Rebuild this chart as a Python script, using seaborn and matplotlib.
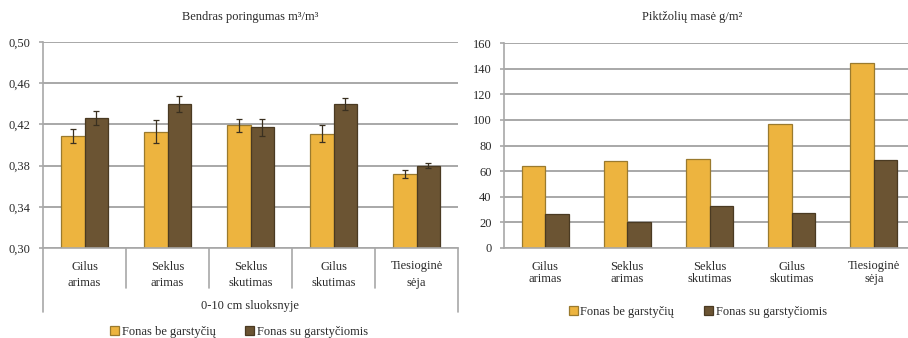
import numpy as np
import pandas as pd
import matplotlib
matplotlib.use("Agg")
import matplotlib.pyplot as plt
import seaborn as sns
from matplotlib.patches import Patch

# --- data ---------------------------------------------------------------
categories = ["Gilus\narimas", "Seklus\narimas", "Seklus\nskutimas", "Gilus\nskutimas", "Tiesioginė\nsėja"]
series_names = ["Fonas be garstyčių", "Fonas su garstyčiomis"]

porosity_without = [0.409, 0.413, 0.419, 0.411, 0.372]
porosity_with = [0.426, 0.440, 0.417, 0.440, 0.380]
porosity_err_without = [0.007, 0.011, 0.006, 0.008, 0.004]
porosity_err_with = [0.007, 0.008, 0.008, 0.006, 0.0025]

weeds_without = [64, 68, 69.5, 97, 144.5]
weeds_with = [26.5, 20, 33, 27, 69]

porosity_ticks = [0.30, 0.34, 0.38, 0.42, 0.46, 0.50]
weeds_ticks = [0, 20, 40, 60, 80, 100, 120, 140, 160]

# --- style --------------------------------------------------------------
sns.set_theme(style="white")
plt.rcParams["font.family"] = ["Liberation Serif", "DejaVu Serif"]
plt.rcParams["font.size"] = 9

yellow = "#EDB43F"
brown = "#6B5433"
palette = {series_names[0]: yellow, series_names[1]: brown}
edges = ["#9A7A2E", "#4A3A22"]
grid_c = "#A8A8A8"
text_c = "#2A2A2A"
FS = 9

def long_frame(a, b):
    return pd.DataFrame({
        "category": categories * 2,
        "series": [series_names[0]] * len(categories) + [series_names[1]] * len(categories),
        "value": list(a) + list(b),
    })

fig = plt.figure(figsize=(9.08, 3.38), dpi=100)
axL = fig.add_axes([43 / 908, 90 / 338, 415 / 908, 206 / 338])
axR = fig.add_axes([504 / 908, 90 / 338, 411 / 908, 205 / 338])

def style_axes(ax, ticks, fmt, linespacing):
    ax.set_yticks(ticks)
    ax.set_yticklabels([fmt(t) for t in ticks], color=text_c, fontsize=FS)
    ax.set_ylim(ticks[0], ticks[-1])
    ax.set_xlim(-0.5, len(categories) - 0.5)
    ax.grid(axis="y", color=grid_c, linewidth=1.4)
    ax.grid(axis="x", visible=False)
    ax.set_axisbelow(True)
    for s in ["top", "right"]:
        ax.spines[s].set_visible(False)
    for s in ["left", "bottom"]:
        ax.spines[s].set_color(grid_c)
        ax.spines[s].set_linewidth(1.2)
    ax.tick_params(axis="y", left=True, length=3, width=1.2, color=grid_c, pad=6)
    ax.tick_params(axis="x", bottom=False, pad=3, labelsize=FS, colors=text_c)
    for lbl in ax.get_xticklabels():
        lbl.set_linespacing(linespacing)
    ax.set_xlabel("")
    ax.set_ylabel("")

# --- left: total porosity ----------------------------------------------
sns.barplot(data=long_frame(porosity_without, porosity_with), x="category", y="value",
            hue="series", palette=palette, width=0.56, saturation=1, ax=axL,
            linewidth=0.9, legend=False)
for cont, ec, errs in zip(axL.containers, edges, [porosity_err_without, porosity_err_with]):
    for bar in cont:
        bar.set_edgecolor(ec)
    xs = [b.get_x() + b.get_width() / 2 for b in cont]
    hs = [b.get_height() for b in cont]
    axL.errorbar(xs, hs, yerr=errs, fmt="none", ecolor="#3A3020", elinewidth=0.9,
                 capsize=2, capthick=0.9)
style_axes(axL, porosity_ticks, lambda t: f"{t:.2f}".replace(".", ","), 1.45)

# group separators below the category axis
xt = axL.get_xaxis_transform()
for b in np.arange(-0.5, len(categories), 1.0):
    outer = b in (-0.5, len(categories) - 0.5)
    axL.plot([b, b], [0, -0.31 if outer else -0.195], transform=xt, clip_on=False,
             color=grid_c, linewidth=1.2)
fig.text(250 / 908, 1 - 17 / 338, "Bendras poringumas m³/m³", ha="center", va="center",
         fontsize=FS, color=text_c)
fig.text(250 / 908, 1 - 306 / 338, "0-10 cm sluoksnyje", ha="center", va="center",
         fontsize=FS, color=text_c)

# --- right: weed mass --------------------------------------------------
sns.barplot(data=long_frame(weeds_without, weeds_with), x="category", y="value",
            hue="series", palette=palette, width=0.57, saturation=1, ax=axR,
            linewidth=0.9, legend=False)
for cont, ec in zip(axR.containers, edges):
    for bar in cont:
        bar.set_edgecolor(ec)
style_axes(axR, weeds_ticks, lambda t: f"{t:d}", 1.05)
fig.text(692 / 908, 1 - 17 / 338, "Piktžolių masė g/m²", ha="center", va="center",
         fontsize=FS, color=text_c)

# --- legends ------------------------------------------------------------
handles = [Patch(facecolor=yellow, edgecolor=edges[0], linewidth=0.9),
           Patch(facecolor=brown, edgecolor=edges[1], linewidth=0.9)]
for cx, cy in [(239, 332), (698, 312)]:
    fig.legend(handles, series_names, loc="center", bbox_to_anchor=(cx / 908, 1 - cy / 338),
               ncol=2, frameon=False, fontsize=FS, handlelength=0.7, handleheight=0.7,
               handletextpad=0.2, columnspacing=2.4, labelcolor=text_c)

fig.savefig("out.png", dpi=100)
